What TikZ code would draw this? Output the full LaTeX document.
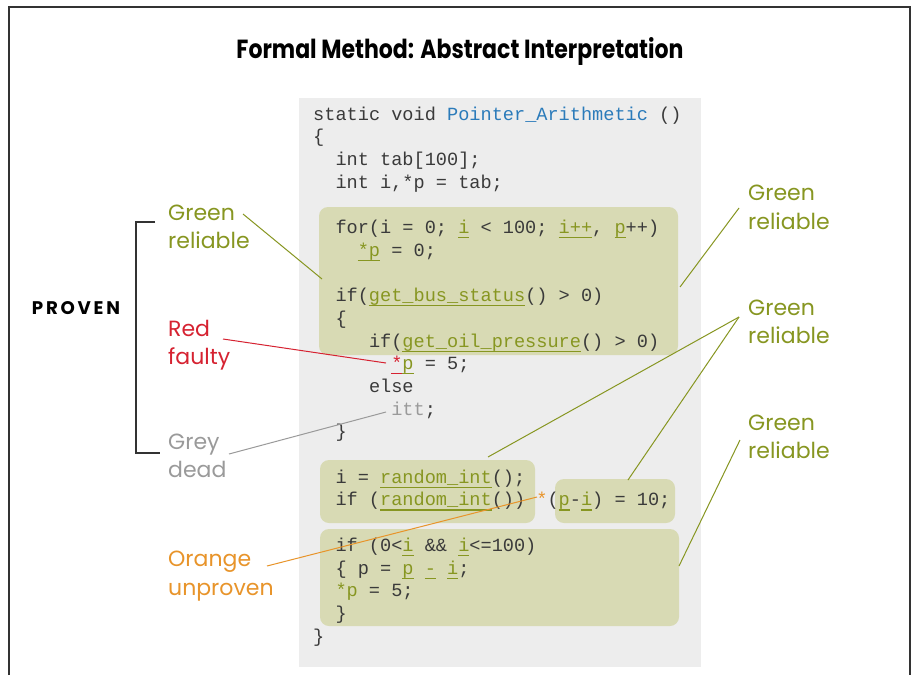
\documentclass[tikz,border=0pt]{standalone}
\usepackage{fontspec}
\setmainfont{Poppins}
\setmonofont{Liberation Mono}
\usepackage{graphicx}
\definecolor{cgreen}{HTML}{879621}
\definecolor{cbox}{HTML}{D8DAB4}
\definecolor{cpanel}{HTML}{EDEDED}
\definecolor{cred}{HTML}{D62231}
\definecolor{cgrey}{HTML}{9A9A9A}
\definecolor{corange}{HTML}{E8942A}
\definecolor{cblue}{HTML}{2B7BBA}
\definecolor{ccode}{HTML}{3A3A3A}
\definecolor{cframe}{HTML}{333333}
\newcommand\ulin[2]{{\color{#1}\setbox0\hbox{#2}\rlap{\rule[-4.6pt]{\wd0}{1.1pt}}\box0}}
\newcommand\gu[1]{\ulin{cgreen}{#1}}
\newcommand\ru[1]{\ulin{cred}{#1}}
\newcommand\gt[1]{{\color{cgreen}#1}}
\tikzset{
  lab/.style={anchor=base west, inner sep=0pt, font=\fontsize{22}{28}\selectfont},
  code/.style={anchor=base west, inner sep=0pt, font=\ttfamily\frenchspacing\fontsize{18.6}{22.7}\selectfont, text=ccode},
  gbox/.style={fill=cbox, draw=none, rounded corners=9pt},
  conn/.style={line width=1pt}
}
\begin{document}
\begin{tikzpicture}[x=1pt,y=-1pt]
\useasboundingbox (0,0) rectangle (913,675);
\fill[white] (0,0) rectangle (913,675);
\draw[cframe, line width=1.6pt] (9,675) -- (9,7) -- (910,7) -- (910,675);
% title
\node[anchor=base, inner sep=0pt, text=black] (title) at (460,58)
  {\resizebox{447pt}{21pt}{\bfseries Formal Method: Abstract Interpretation}};
% code panel
\fill[cpanel] (299,98) rectangle (701,667);
\fill[gbox] (319,207) rectangle (678,355);
\fill[gbox] (320,460) rectangle (535,523);
\fill[gbox] (555,479) rectangle (675,523);
\fill[gbox] (320,529) rectangle (679,626);
\coordinate (b1w) at (322,279);
\coordinate (b1e) at (680,287);
\coordinate (b2n) at (488,457);
\coordinate (b3n) at (628,480);
\coordinate (b4e) at (679,566);
\coordinate (redend) at (386,363);
\coordinate (greyend) at (386,412);
\coordinate (orangeend) at (537,497);
% code lines
\node[code] (c1) at (313,120) {static void {\color{cblue}Pointer\_Arithmetic} ()};
\node[code] (c2) at (313,142.7) {\{};
\node[code] (c3) at (335.3,165.4) {int tab[100];};
\node[code] (c4) at (335.3,188.1) {int i,*p = tab;};
\node[code] (c6) at (335.3,233.5) {for(i = 0; \gu{i} < 100; \gu{i++}, \gu{p}++)};
\node[code] (c7) at (357.6,256.2) {\gu{*p} = 0;};
\node[code] (c9) at (335.3,301.6) {if(\gu{get\_bus\_status}() > 0)};
\node[code] (c10) at (335.3,324.3) {\{};
\node[code] (c11) at (368.8,347) {if(\gu{get\_oil\_pressure}() > 0)};
\node[code] (c12) at (391.1,369.7) {\ru{*}\gu{p} = 5;};
\node[code] (c13) at (368.8,392.4) {else};
\node[code] (c14) at (391.1,415.1) {{\color{cgrey}itt};};
\node[code] (c15) at (335.3,437.8) {\}};
\node[code] (c17) at (335.3,483.2) {i = \gu{random\_int}();};
\node[code] (c18) at (335.3,505.9) {if (\gu{random\_int}()) {\color{corange}*}(\gu{p}-\gu{i}) = 10;};
\node[code] (c20) at (335.3,551.3) {if (0<\gu{i} \&\& \gu{i}<=100)};
\node[code] (c21) at (335.3,574) {\{ p = \gu{p} \gu{-} \gu{i};};
\node[code] (c22) at (335.3,596.7) {\gt{*p} = 5;};
\node[code] (c23) at (335.3,619.4) {\}};
\node[code] (c24) at (313,642.1) {\}};
% left side
\node[inner sep=0pt, text=black] (proven) at (76,308)
  {\resizebox{88pt}{13pt}{\bfseries P\kern1.5pt R\kern1.5pt O\kern1.5pt V\kern1.5pt E\kern1.5pt N}};
\draw[cframe, line width=1.3pt] (155,222) -- (136,222) -- (136,453) -- (160,453);
\node[lab, text=cgreen] (gl1) at (168,220) {Green};
\node[lab, text=cgreen] (gl2) at (168,248) {reliable};
\node[lab, text=cred] (rl1) at (168,336) {Red};
\node[lab, text=cred] (rl2) at (168,364) {faulty};
\node[lab, text=cgrey] (yl1) at (168,449) {Grey};
\node[lab, text=cgrey] (yl2) at (168,477) {dead};
\node[lab, text=corange] (ol1) at (168,566) {Orange};
\node[lab, text=corange] (ol2) at (168,595) {unproven};
% right side
\node[lab, text=cgreen] (ga1) at (748,200) {Green};
\node[lab, text=cgreen] (ga2) at (748,229) {reliable};
\node[lab, text=cgreen] (gb1) at (748,315) {Green};
\node[lab, text=cgreen] (gb2) at (748,343) {reliable};
\node[lab, text=cgreen] (gc1) at (748,430) {Green};
\node[lab, text=cgreen] (gc2) at (748,458) {reliable};
% connectors
\coordinate (glp) at (243,214);
\coordinate (rlp) at (223,339);
\coordinate (ylp) at (229,454);
\coordinate (olp) at (267,566);
\coordinate (gap) at (739,208);
\coordinate (gbp) at (739,317);
\coordinate (gcp) at (740,440);
\draw[conn, cgreen] (glp) -- (b1w);
\draw[conn, cred] (rlp) -- (redend);
\draw[conn, cgrey] (ylp) -- (greyend);
\draw[conn, corange] (olp) -- (orangeend);
\draw[conn, cgreen] (gap) -- (b1e);
\draw[conn, cgreen] (gbp) -- (b2n);
\draw[conn, cgreen] (gbp) -- (b3n);
\draw[conn, cgreen] (gcp) -- (b4e);
\end{tikzpicture}
\end{document}
